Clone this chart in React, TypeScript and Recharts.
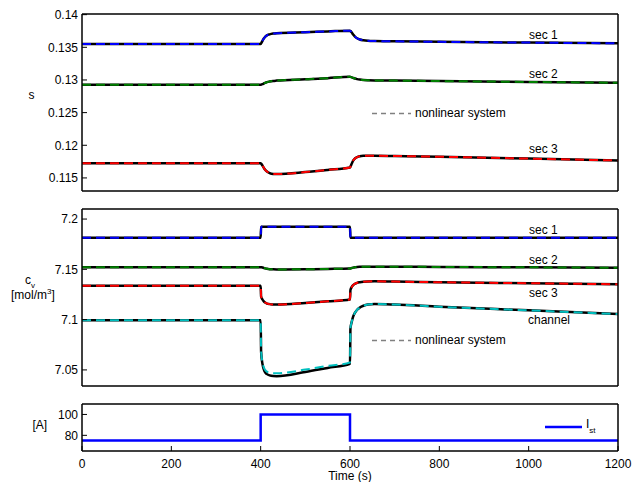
import React from 'react';
import { LineChart, Line, XAxis, YAxis } from 'recharts';

const FONT = '"Liberation Sans", Arial, Helvetica, sans-serif';

// time grid (s), denser around the load steps at 400 s and 600 s
const times = [0, 400, 401, 404, 407, 410, 414, 420, 428, 436, 500, 550, 600, 601, 604, 607, 611, 616, 622, 630, 640, 655, 700, 800, 1000, 1200];

// membrane water saturation s per section
const sSec1 = [0.13551, 0.13551, 0.1356, 0.136, 0.13635, 0.1366, 0.13683, 0.13698, 0.1371, 0.13716, 0.13731, 0.13743, 0.13755, 0.1375, 0.13725, 0.13695, 0.13665, 0.13638, 0.1362, 0.13608, 0.136, 0.13596, 0.13592, 0.13584, 0.13572, 0.13561];
const sSec2 = [0.12926, 0.12926, 0.12928, 0.12936, 0.12946, 0.12955, 0.12966, 0.12976, 0.12985, 0.1299, 0.1301, 0.13028, 0.13049, 0.13047, 0.1304, 0.13032, 0.13022, 0.13013, 0.13006, 0.13, 0.12996, 0.12993, 0.1299, 0.12983, 0.1297, 0.12957];
const sSec3 = [0.11725, 0.11725, 0.11718, 0.1169, 0.11655, 0.11625, 0.11598, 0.11575, 0.11562, 0.1156, 0.1159, 0.11623, 0.1166, 0.11672, 0.1172, 0.11765, 0.11798, 0.1182, 0.11832, 0.11838, 0.1184, 0.1184, 0.11836, 0.11825, 0.11796, 0.11767];

// vapour concentration c_v [mol/m3]
const cvSec1 = [7.1814, 7.1814, 7.1923, 7.1923, 7.1923, 7.1923, 7.1923, 7.1923, 7.1923, 7.1923, 7.1923, 7.1923, 7.1923, 7.1814, 7.1814, 7.1814, 7.1814, 7.1814, 7.1814, 7.1814, 7.1814, 7.1814, 7.1814, 7.1814, 7.1814, 7.1814];
const cvSec2 = [7.1522, 7.1522, 7.1521, 7.1518, 7.1514, 7.151, 7.1506, 7.1502, 7.15, 7.1499, 7.1501, 7.1504, 7.1508, 7.1509, 7.1513, 7.1517, 7.1521, 7.1524, 7.1526, 7.1527, 7.1527, 7.1527, 7.1526, 7.1524, 7.152, 7.1516];
const cvSec3 = [7.1336, 7.1336, 7.123, 7.12, 7.1182, 7.117, 7.116, 7.1154, 7.1151, 7.115, 7.1166, 7.1182, 7.1201, 7.1294, 7.1325, 7.1343, 7.1356, 7.1366, 7.1372, 7.1377, 7.138, 7.1381, 7.1378, 7.1372, 7.1362, 7.1352];
const cvChannel = [7.0995, 7.0995, 7.068, 7.056, 7.0505, 7.0475, 7.0458, 7.0445, 7.0439, 7.0438, 7.048, 7.052, 7.056, 7.0912, 7.098, 7.103, 7.1068, 7.1098, 7.112, 7.1138, 7.115, 7.1155, 7.115, 7.1128, 7.1092, 7.1055];
const cvChannelNl = [7.0995, 7.0995, 7.0685, 7.0575, 7.0525, 7.05, 7.0483, 7.0472, 7.0466, 7.0466, 7.0503, 7.054, 7.0573, 7.0915, 7.098, 7.103, 7.1068, 7.1098, 7.112, 7.1138, 7.115, 7.1155, 7.115, 7.1128, 7.1092, 7.1055];

// stack current I_st [A]
const currentTimes = [0, 400, 600, 1200];
const current = [75, 100, 75, 75];

const xTicks = [0, 200, 400, 600, 800, 1000, 1200];
const sTicks = [0.115, 0.12, 0.125, 0.13, 0.135, 0.14];
const cvTicks = [7.05, 7.1, 7.15, 7.2];
const iTicks = [80, 100];

const sData = times.map((t, i) => ({ t, sec1: sSec1[i], sec2: sSec2[i], sec3: sSec3[i] }));
const cvData = times.map((t, i) => ({
  t, sec1: cvSec1[i], sec2: cvSec2[i], sec3: cvSec3[i], channel: cvChannel[i], channelNl: cvChannelNl[i],
}));
const iData = currentTimes.map((t, i) => ({ t, ist: current[i] }));

const axisLine = { stroke: '#000', strokeWidth: 1.5 };
const tickLine = { stroke: '#000', strokeWidth: 1 };
const tickFont = { fill: '#000', fontSize: 12, fontFamily: FONT };

function frame(yDomain: number[], yTicks: number[], showX: boolean) {
  return [
    <XAxis key="xb" xAxisId="b" type="number" dataKey="t" domain={[0, 1200]} ticks={xTicks} interval={0}
      allowDataOverflow tickSize={-5} tickMargin={13} height={showX ? 30 : 10}
      axisLine={axisLine} tickLine={tickLine} tick={showX ? tickFont : false} />,
    <XAxis key="xt" xAxisId="t" orientation="top" type="number" dataKey="t" domain={[0, 1200]} ticks={xTicks}
      interval={0} allowDataOverflow tickSize={-5} height={10} axisLine={axisLine} tickLine={tickLine} tick={false} />,
    <YAxis key="yl" yAxisId="l" type="number" domain={yDomain} ticks={yTicks} interval={0} allowDataOverflow
      tickSize={-5} tickMargin={9} width={82} axisLine={axisLine} tickLine={tickLine} tick={tickFont} />,
    <YAxis key="yr" yAxisId="r" orientation="right" type="number" domain={yDomain} ticks={yTicks} interval={0}
      allowDataOverflow tickSize={-5} width={16} axisLine={axisLine} tickLine={tickLine} tick={false} />,
  ];
}

// black solid = linear model, coloured dashes = nonlinear system on top
function pair(key: string, color: string, nlKey?: string) {
  return [
    <Line key={key + '-lin'} xAxisId="b" yAxisId="l" type="monotone" dataKey={key} stroke="#000"
      strokeWidth={2.5} dot={false} isAnimationActive={false} />,
    <Line key={key + '-nl'} xAxisId="t" yAxisId="r" type="monotone" dataKey={nlKey ?? key} stroke={color}
      strokeWidth={2} strokeDasharray="9 5" dot={false} isAnimationActive={false} />,
  ];
}

const margin = { top: 4, right: 0, bottom: 0, left: 0 };

export default function App() {
  return (
    <div style={{ position: 'absolute', left: 0, top: 0, width: 634, height: 482, background: '#fff', fontFamily: FONT }}>
      <div style={{ position: 'absolute', left: 0, top: 0 }}>
        <LineChart width={634} height={201} data={sData} margin={margin}>
          {frame([0.113, 0.1401], sTicks, false)}
          {pair('sec1', '#0000ff')}
          {pair('sec2', '#008000')}
          {pair('sec3', '#ff0000')}
        </LineChart>
      </div>
      <div style={{ position: 'absolute', left: 0, top: 195 }}>
        <LineChart width={634} height={201} data={cvData} margin={margin}>
          {frame([7.034, 7.21], cvTicks, false)}
          {pair('sec1', '#0000ff')}
          {pair('sec2', '#008000')}
          {pair('sec3', '#ff0000')}
          {pair('channel', '#00bfbf', 'channelNl')}
        </LineChart>
      </div>
      <div style={{ position: 'absolute', left: 0, top: 390 }}>
        <LineChart width={634} height={91} data={iData} margin={margin}>
          {frame([65, 110], iTicks, true)}
          <Line xAxisId="b" yAxisId="l" type="stepAfter" dataKey="ist" stroke="#0000ff" strokeWidth={2.5}
            dot={false} isAnimationActive={false} />
          <Line xAxisId="t" yAxisId="r" type="stepAfter" dataKey="ist" stroke="none" strokeWidth={0}
            dot={false} isAnimationActive={false} legendType="none" />
        </LineChart>
      </div>
      <svg width={634} height={482} style={{ position: 'absolute', left: 0, top: 0, pointerEvents: 'none' }}
        fontFamily={FONT} fontSize={12} fill="#000">
        {/* axis labels */}
        <text x={31.5} y={98.5} textAnchor="middle">s</text>
        <text x={25} y={283.5}>c<tspan fontSize={8} dy={4}>v</tspan></text>
        <text x={11} y={299}>[mol/m<tspan fontSize={8} dy={-5}>3</tspan><tspan dy={5}>]</tspan></text>
        <text x={32.5} y={428.5}>[A]</text>
        <text x={350} y={480} textAnchor="middle">Time (s)</text>
        {/* top panel annotations */}
        <text x={529} y={39}>sec 1</text>
        <text x={529} y={78}>sec 2</text>
        <text x={529} y={152.5}>sec 3</text>
        <line x1={372} x2={411} y1={113.5} y2={113.5} stroke="#808080" strokeWidth={1.3} strokeDasharray="5 4" />
        <text x={415} y={117}>nonlinear system</text>
        {/* middle panel annotations */}
        <text x={529} y={234}>sec 1</text>
        <text x={529} y={264}>sec 2</text>
        <text x={529} y={296.5}>sec 3</text>
        <text x={528} y={324}>channel</text>
        <line x1={372} x2={411} y1={340.5} y2={340.5} stroke="#808080" strokeWidth={1.3} strokeDasharray="5 4" />
        <text x={415} y={344}>nonlinear system</text>
        {/* current legend */}
        <line x1={545} x2={582} y1={427} y2={427} stroke="#0000ff" strokeWidth={2.5} />
        <text x={586} y={428}>I<tspan fontSize={8} dy={5}>st</tspan></text>
      </svg>
    </div>
  );
}
